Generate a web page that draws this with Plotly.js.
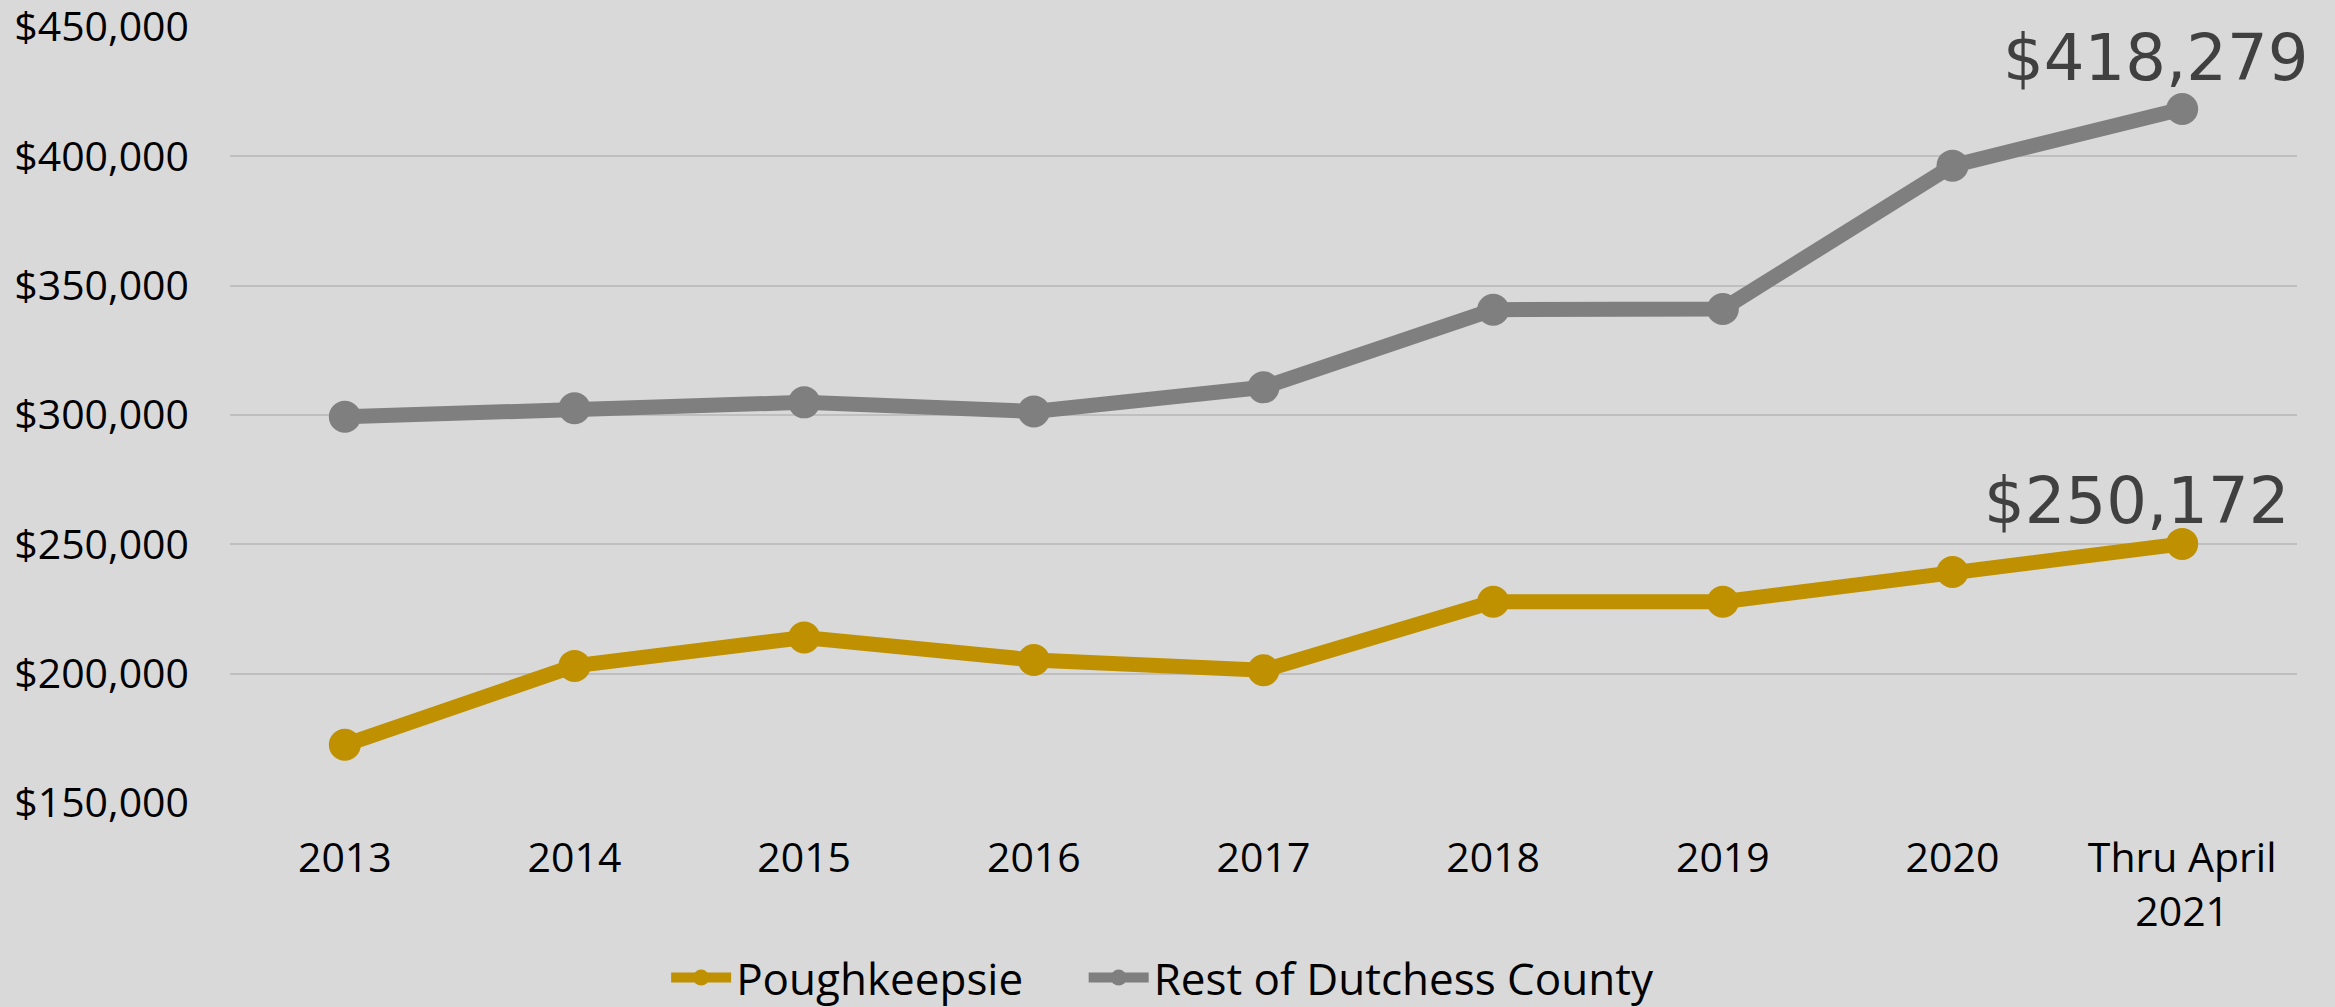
<!DOCTYPE html>
<html>
<head>
<meta charset="utf-8">
<script src="https://cdn.plot.ly/plotly-3.0.1.min.js"></script>
<style>
  html, body { margin: 0; padding: 0; background: #D9D9D9; }
  #chart { width: 2335px; height: 1007px; }
</style>
</head>
<body>
<div id="chart"></div>
<script>
const categories = ["2013", "2014", "2015", "2016", "2017", "2018", "2019", "2020", "Thru April<br>2021"];
const poughkeepsie = [172500, 203000, 214000, 205300, 201300, 227800, 227800, 239300, 250172];
const restOfDutchess = [299300, 302600, 304900, 301400, 310700, 340700, 341000, 396400, 418279];
const seriesNames = ["Poughkeepsie", "Rest of Dutchess County"];
const yTicks = [150000, 200000, 250000, 300000, 350000, 400000, 450000];

const gold = "#BF9000";
const gray = "#7F7F7F";
const tickFont = { family: "'Open Sans', Lato, sans-serif", size: 41, color: "#000000" };
const legendFont = { family: "'Open Sans', Lato, sans-serif", size: 44, color: "#000000" };

const traces = [
  {
    x: categories, y: poughkeepsie, name: seriesNames[0], type: "scatter", mode: "lines+markers",
    line: { color: gold, width: 15 }, marker: { color: gold, size: 32 }, hoverinfo: "skip",
    legend: "legend"
  },
  {
    x: categories, y: restOfDutchess, name: seriesNames[1], type: "scatter", mode: "lines+markers",
    line: { color: gray, width: 15 }, marker: { color: gray, size: 32 }, hoverinfo: "skip",
    legend: "legend2"
  }
];

const lastIdx = categories.length - 1;
const fmt = v => "$" + v.toLocaleString("en-US");

const legendCommon = {
  orientation: "h", xanchor: "left", y: -0.2255, yanchor: "middle",
  font: legendFont, bgcolor: "rgba(0,0,0,0)", itemwidth: 60
};

const layout = {
  width: 2335, height: 1007,
  paper_bgcolor: "#D9D9D9", plot_bgcolor: "#D9D9D9",
  margin: { l: 230, r: 38, t: 27, b: 204, autoexpand: false },
  showlegend: true,
  legend: Object.assign({}, legendCommon, { x: 0.211 }),
  legend2: Object.assign({}, legendCommon, { x: 0.413 }),
  xaxis: {
    type: "category", range: [-0.5, categories.length - 0.5],
    showgrid: false, zeroline: false, showline: true, linecolor: "#D9D9D9", linewidth: 4,
    ticks: "", ticklabelstandoff: 16, tickfont: tickFont, fixedrange: true
  },
  yaxis: {
    range: [yTicks[0], yTicks[yTicks.length - 1]], tickvals: yTicks, tickformat: "$,.0f",
    showgrid: true, gridcolor: "#BFBFBF", gridwidth: 2, zeroline: false, showline: false,
    ticks: "", ticklabelstandoff: 40, ticklabeloverflow: "allow", tickfont: tickFont, fixedrange: true
  },
  annotations: [
    {
      x: lastIdx, y: restOfDutchess[lastIdx], xref: "x", yref: "y",
      text: fmt(restOfDutchess[lastIdx]), showarrow: false,
      xanchor: "center", yanchor: "bottom", xshift: -27, yshift: 12,
      font: { family: "'DejaVu Sans', Verdana, sans-serif", size: 64, color: "#404040" }
    },
    {
      x: lastIdx, y: poughkeepsie[lastIdx], xref: "x", yref: "y",
      text: fmt(poughkeepsie[lastIdx]), showarrow: false,
      xanchor: "center", yanchor: "bottom", xshift: -46, yshift: 4,
      font: { family: "'DejaVu Sans', Verdana, sans-serif", size: 64, color: "#404040" }
    }
  ]
};

Plotly.newPlot("chart", traces, layout, { displayModeBar: false, staticPlot: true });
</script>
</body>
</html>
